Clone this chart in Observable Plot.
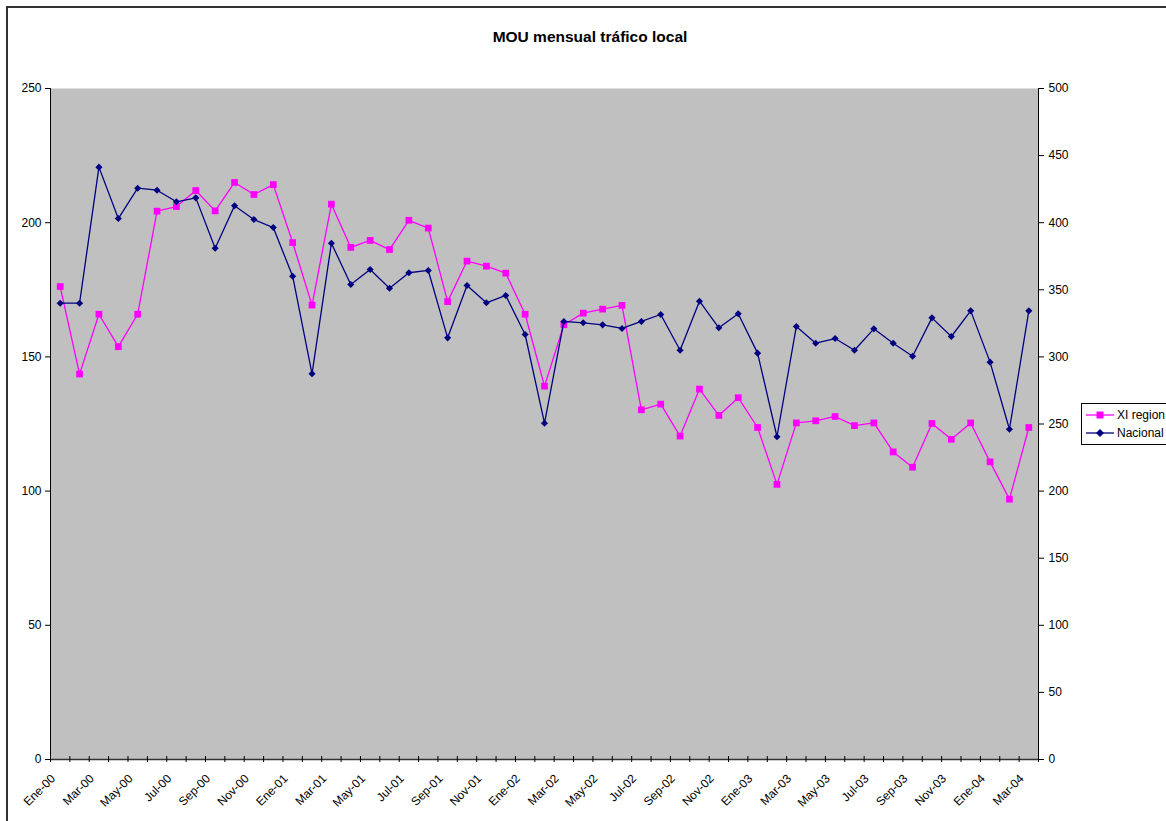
<!DOCTYPE html>
<html>
<head>
<meta charset="utf-8">
<script src="https://cdn.jsdelivr.net/npm/d3@7"></script>
<script src="https://cdn.jsdelivr.net/npm/@observablehq/plot@0.6"></script>
<style>
  html, body { margin: 0; padding: 0; background: #fff; overflow: hidden; }
  #wrap { position: relative; width: 1166px; height: 821px; font-family: "Liberation Sans", Arial, sans-serif; }
  #border { position: absolute; left: 6px; top: 6px; width: 1300px; height: 1000px; border-left: 2px solid #333; border-top: 2px solid #333; pointer-events: none; }
  #title { position: absolute; left: 390px; width: 400px; top: 28px; text-align: center; font-weight: bold; font-size: 15.5px; color: #000; }
  #legend { position: absolute; left: 1081px; top: 403px; width: 130px; height: 40px; border: 1px solid #000; background: #fff; font-size: 12px; color: #000; }
  .item { position: absolute; left: 4px; height: 14px; display: flex; align-items: center; }
  .item svg { margin-right: 3px; }
</style>
</head>
<body>
<div id="wrap">
  <div id="chart"></div>
  <div id="border"></div>
  <div id="title">MOU mensual tráfico local</div>
  <div id="legend">
    <div class="item" style="top:4px"><svg width="28" height="10"><line x1="0" y1="5" x2="28" y2="5" stroke="#FF00FF" stroke-width="1.3"/><rect x="10.5" y="1.5" width="7" height="7" fill="#FF00FF"/></svg><span id="lg1"></span></div>
    <div class="item" style="top:22px"><svg width="28" height="10"><line x1="0" y1="5" x2="28" y2="5" stroke="#000080" stroke-width="1.3"/><path d="M14,1 L18,5 L14,9 L10,5 Z" fill="#000080"/></svg><span id="lg2"></span></div>
  </div>
</div>
<script>
const seriesNames = ["XI region", "Nacional"];
const months = [
  "Ene-00","Feb-00","Mar-00","Abr-00","May-00","Jun-00","Jul-00","Ago-00","Sep-00","Oct-00","Nov-00","Dic-00",
  "Ene-01","Feb-01","Mar-01","Abr-01","May-01","Jun-01","Jul-01","Ago-01","Sep-01","Oct-01","Nov-01","Dic-01",
  "Ene-02","Feb-02","Mar-02","Abr-02","May-02","Jun-02","Jul-02","Ago-02","Sep-02","Oct-02","Nov-02","Dic-02",
  "Ene-03","Feb-03","Mar-03","Abr-03","May-03","Jun-03","Jul-03","Ago-03","Sep-03","Oct-03","Nov-03","Dic-03",
  "Ene-04","Feb-04","Mar-04"
];
// left axis (XI region)
const xiRegion = [176.2,143.6,165.9,153.8,165.9,204.3,206.0,212.0,204.4,215.0,210.5,214.2,192.6,
  169.3,206.9,190.8,193.4,190.0,200.9,198.0,170.6,185.7,183.8,181.2,165.9,
  139.1,162.0,166.3,167.8,169.2,130.3,132.4,120.5,138.0,128.2,134.8,123.7,
  102.5,125.4,126.2,127.8,124.4,125.4,114.6,108.9,125.2,119.3,125.4,110.9,97.0,123.7];
// right axis (Nacional)
const nacional = [340,340,441.4,403.1,425.7,424.2,415.6,418.5,381.0,412.6,402.4,396.4,360.1,
  287.4,384.7,354.0,365.1,351.2,362.7,364.4,314.2,353.2,340.3,345.8,316.7,
  250.6,326.4,325.4,323.9,321.2,326.4,331.6,305.0,341.5,321.7,332.1,302.8,
  240.5,322.7,310.2,313.7,305.0,320.9,310.2,300.5,329.1,315.2,334.3,296.1,246.1,334.3];
const leftTicks = [0,50,100,150,200,250];
const rightTicks = [0,50,100,150,200,250,300,350,400,450,500];

document.getElementById("lg1").textContent = seriesNames[0];
document.getElementById("lg2").textContent = seriesNames[1];

const ratio = 2; // right axis max / left axis max
const xiData = months.map((m, i) => ({i, m, v: xiRegion[i]}));
const naData = months.map((m, i) => ({i, m, v: nacional[i] / ratio}));
const boundaries = d3.range(months.length + 1).map(k => k - 0.5);
const labelData = months.map((m, i) => ({i, m})).filter(d => d.i % 2 === 0);

const chart = Plot.plot({
  width: 1166,
  height: 821,
  marginLeft: 50,
  marginRight: 128,
  marginTop: 88,
  marginBottom: 62,
  style: {background: "transparent", fontFamily: "Liberation Sans, Arial, sans-serif", fontSize: "12px", color: "#000"},
  x: {type: "linear", domain: [-0.5, months.length - 0.5], axis: null, label: null},
  y: {domain: [0, 250], axis: null, label: null},
  marks: [
    Plot.frame({fill: "#C0C0C0", stroke: null}),
    Plot.ruleY([0], {stroke: "#333", strokeWidth: 1.5}),
    Plot.ruleX([-0.5, months.length - 0.5], {stroke: "#000", strokeWidth: 1}),
    Plot.axisY({ticks: leftTicks, tickSize: 5, tickPadding: 4, fontSize: 12, stroke: "#000", label: null}),
    Plot.axisY({anchor: "right", ticks: rightTicks.map(v => v / ratio), tickFormat: v => v * ratio, tickSize: 5, tickPadding: 5, fontSize: 12, stroke: "#000", label: null}),
    Plot.axisX({ticks: boundaries, tickFormat: () => "", tickSize: 6, dy: -3, stroke: "#000", label: null}),
    Plot.text(labelData, {x: "i", y: 0, text: "m", rotate: -45, textAnchor: "end", dx: -7, dy: 17, fontSize: 12, fill: "#000"}),
    Plot.line(xiData, {x: "i", y: "v", stroke: "#FF00FF", strokeWidth: 1.3}),
    Plot.dot(xiData, {x: "i", y: "v", symbol: "square", r: 3.8, fill: "#FF00FF", stroke: null}),
    Plot.line(naData, {x: "i", y: "v", stroke: "#000080", strokeWidth: 1.3}),
    Plot.dot(naData, {x: "i", y: "v", symbol: "diamond2", r: 3.2, fill: "#000080", stroke: null})
  ]
});
document.getElementById("chart").appendChild(chart);
</script>
</body>
</html>
